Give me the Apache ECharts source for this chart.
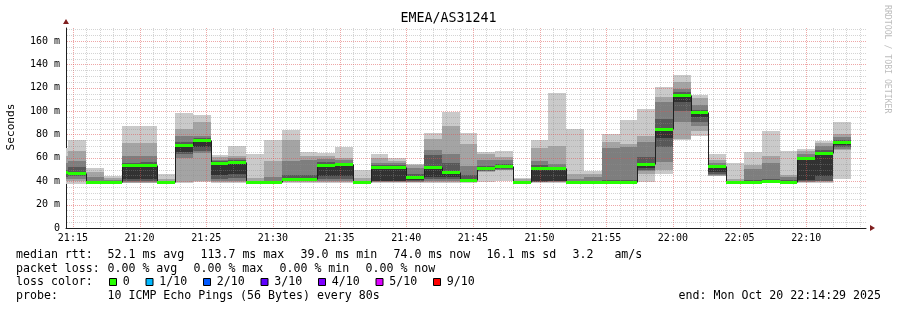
<!DOCTYPE html>
<html><head><meta charset="utf-8">
<script src="https://cdn.jsdelivr.net/npm/echarts@6/dist/echarts.min.js"></script>
<style>html,body{margin:0;padding:0;background:#fff}#c{width:897px;height:310px}</style>
</head><body><div id="c"></div>
<script>
// ---- data ----
const stepStarts = ['21:13:20','21:14:40','21:16:00','21:17:20','21:18:40','21:20:00','21:21:20','21:22:40','21:24:00','21:25:20',
  '21:26:40','21:28:00','21:29:20','21:30:40','21:32:00','21:33:20','21:34:40','21:36:00','21:37:20','21:38:40',
  '21:40:00','21:41:20','21:42:40','21:44:00','21:45:20','21:46:40','21:48:00','21:49:20','21:50:40','21:52:00',
  '21:53:20','21:54:40','21:56:00','21:57:20','21:58:40','22:00:00','22:01:20','22:02:40','22:04:00','22:05:20',
  '22:06:40','22:08:00','22:09:20','22:10:40','22:12:00'];
const stepSeconds = 80;
// sorted round-trip times of the 10 pings of each step (ms)
const ping1 = [38,38,38.2,38.3,38.2,38.3,38.3,38.5,39,38.5,38.5,38.3,38.3,38.7,38.7,38.7,38.8,38.3,38.5,38.5,38.5,38.8,38.8,38.5,39.5,39.8,38.4,38.5,38.5,38.3,38.3,38.4,38.4,39,46,75.5,78.5,44.2,38.3,38.5,38.7,38.5,38.6,38.6,42];
const ping2 = [40,40,38.5,38.6,38.8,38.9,38.6,39.5,40,39,39.3,38.6,38.6,39.3,39.4,39.3,39.5,38.6,39,39,39,39.5,39.5,39,48,49.5,38.7,39,39,38.6,38.6,38.7,38.7,46,50,76,83,44.8,38.6,38.8,39,38.8,39.1,39.2,67];
const ping3 = [42,42.3,38.7,38.8,39.2,39.3,38.8,60,63.9,40,40.5,38.8,38.8,40,40,40,40.5,38.8,39.4,39.4,39.5,40.3,40.3,39.4,48.5,49.8,38.9,39.4,39.4,38.8,38.8,38.9,38.9,48.5,56.7,90.7,87,45.3,38.8,39,39.3,39,39.5,39.8,68];
const ping4 = [44,44.6,38.8,38.9,40,40.2,38.9,63,66,42,42.5,38.9,38.9,40.5,40.5,41.5,42,38.9,39.8,39.8,40,41.5,41.5,39.8,49,50.3,39,39.7,39.8,38.9,38.9,39.1,39,50,69,100,91,46,38.9,39.2,39.6,39.2,40,40.5,69.5];
const ping5 = [46,45.7,38.9,39,41.7,41.5,39,65.3,69.5,45.5,46,39,39,41,41,44.5,44.5,39,40.5,40.5,41,44,43.5,40.3,49.5,51,39.1,40,40.5,39,39,39.3,39.2,51.5,77,107.5,95,47.5,39,39.4,40,39.4,41,44.5,71];
const ping6 = [47.8,47.4,39,39.1,53.8,53.9,39.1,71,75.3,55.8,56.5,39.1,39.1,42,42,54.3,54.5,39.1,52.5,52.5,43.5,51.8,48.2,41,51,52.8,39.3,51,51,39.1,39.1,39.6,39.4,54.6,85,113.7,99.5,52.8,39.1,39.5,40.2,39.5,59.5,64,74];
const ping7 = [50,52,40.5,39.8,56,56.5,39.5,74,77,57,58,39.8,40.5,45,45,56.5,56,39.8,54,54,46,62.4,56,45,53,55,39.8,54,52.5,40,40.5,41,41,61,93,116,101,54,39.7,41,42,41,61,67,75.5];
const ping8 = [56,57,43.5,40.8,61.7,62,40,79,79,58.5,59.5,40.5,44,57.5,58,59,58,40.5,56,55.5,51,66.7,63.3,53,58,58.5,40.5,57,55,42,44,68.3,69.4,73.6,108,119,105,55.5,40.5,50.5,55.7,44,63,70.5,77.5];
const ping9 = [62,65.7,47.5,42.5,72.6,73,41.5,85,91,60.5,61.5,42.5,57.2,75.3,62,62,60,43,60,57.5,53.5,76,87.3,72,63,61,41.5,68.5,70.5,46,46,73.3,71.5,79,112,125,111,58,42,54,62,45,65.5,72.5,80];
const ping10 = [68.5,75.2,51.3,44.8,87.5,87.6,46.5,98.5,96.7,62.5,70,63.5,75.2,83.5,65,64.5,69.5,50,63,60,55,81,99.5,81,65,66,42.5,75.2,115.5,85,49,80,92.3,101.4,120.5,131,114,63,55.3,65,83,65.8,67.2,74.7,91];
const lostPings = [0,0,0,0,0,0,0,0,0,0,0,0,0,0,0,0,0,0,0,0,0,0,0,0,0,0,0,0,0,0,0,0,0,0,0,0,0,0,0,0,0,0,0,0,0];
const medianRtt = ping6;
const xTickLabels = ['21:15','21:20','21:25','21:30','21:35','21:40','21:45','21:50','21:55','22:00','22:05','22:10'];
const yTickLabels = ['0','20 m','40 m','60 m','80 m','100 m','120 m','140 m','160 m'];
const lossLabels = ['0','1/10','2/10','3/10','4/10','5/10','9/10'];
const lossValues = [0,1,2,3,4,5,9];
const lossColors = ['#26ff00','#00b8ff','#0059ff','#5e00ff','#7e00ff','#dd00ff','#ff0000'];
const legendLines = [
  ['median rtt:', ['52.1 ms avg','113.7 ms max','39.0 ms min','74.0 ms now','16.1 ms sd','3.2   am/s']],
  ['packet loss:', ['0.00 % avg','0.00 % max','0.00 % min','0.00 % now']]
];
const probeText = '10 ICMP Echo Pings (56 Bytes) every 80s';
const endText = 'end: Mon Oct 20 22:14:29 2025';
const titleText = 'EMEA/AS31241';

// ---- helpers ----
function secs(hms){const p=hms.split(':').map(Number);return (p[0]-21)*3600+p[1]*60+(p[2]||0);}
const FONT = "'DejaVu Sans Mono', monospace";
const xMin = secs('21:14:29'), xMax = secs('22:14:29');
const yMax = 171.1;
const smokeColors = ['#cacaca','#a4a4a4','#7e7e7e','#585858','#323232'];
const pings = [ping1,ping2,ping3,ping4,ping5,ping6,ping7,ping8,ping9,ping10];
const smokeData = stepStarts.map((t,i)=>[secs(t), secs(t)+stepSeconds].concat(pings.map(p=>p[i])));
const medData = stepStarts.map((t,i)=>[secs(t), secs(t)+stepSeconds, medianRtt[i], i>0?medianRtt[i-1]:medianRtt[i], lostPings[i]]);
const xTickVals = xTickLabels.map(s=>secs(s+':00'));
const yTickVals = yTickLabels.map(s=>parseFloat(s));

// grid lines: minor each minute / 5 ms, major at labelled ticks
const gridData = [];
for (let t = Math.ceil(xMin/60)*60; t < xMax; t += 60) gridData.push([t, 1, xTickVals.indexOf(t) >= 0 ? 1 : 0]);
for (let v = 5; v < yMax; v += 5) if (yTickVals.indexOf(v) < 0) gridData.push([v, 0, 0]);
yTickVals.forEach(v=>{ if (v>0) gridData.push([v, 0, 1]); });

function xspan(params, api){
  const cs = params.coordSys;
  let x0 = Math.round(api.coord([api.value(0), 0])[0]);
  let x1 = Math.round(api.coord([api.value(1), 0])[0]);
  const clipped = x0 < cs.x;
  x0 = Math.max(x0, cs.x); x1 = Math.min(x1, cs.x + cs.width);
  return [x0, x1, clipped];
}

const chart = echarts.init(document.getElementById('c'), null, {renderer:'canvas'});

const graphics = [];
graphics.push({type:'text', x:448.5, y:19, style:{text:titleText, font:'13.3px '+FONT, fill:'#000', textAlign:'center', textVerticalAlign:'middle'}});
graphics.push({type:'text', x:11, y:127, rotation:Math.PI/2, style:{text:'Seconds', font:'11.2px '+FONT, fill:'#000', textAlign:'center', textVerticalAlign:'middle'}});
graphics.push({type:'text', x:887, y:5, rotation:-Math.PI/2, style:{text:'RRDTOOL / TOBI OETIKER', font:'8.2px '+FONT, fill:'#bdbdbd', textAlign:'left', textVerticalAlign:'middle'}});
const lineY = [255, 268.5, 282, 296];
const colX = 107.5, gap = 16, cw = 7.0;
const LF = '11.6px ' + FONT;
legendLines.forEach((ln, r)=>{
  graphics.push({type:'text', x:16, y:lineY[r], style:{text:ln[0], font:LF, fill:'#000', textVerticalAlign:'middle'}});
  let x = colX;
  ln[1].forEach(s=>{
    graphics.push({type:'text', x:x, y:lineY[r], style:{text:s, font:LF, fill:'#000', textVerticalAlign:'middle'}});
    x += s.length*cw + gap;
  });
});
graphics.push({type:'text', x:16, y:lineY[2], style:{text:'loss color:', font:LF, fill:'#000', textVerticalAlign:'middle'}});
let bx = 109.5;
lossLabels.forEach((l,i)=>{
  graphics.push({type:'rect', shape:{x:bx, y:lineY[2]-3.5, width:7, height:7}, style:{fill:lossColors[i], stroke:'#000', lineWidth:1}});
  graphics.push({type:'text', x:bx+13.3, y:lineY[2], style:{text:l, font:LF, fill:'#000', textVerticalAlign:'middle'}});
  bx = bx + 13.3 + l.length*cw + 16.2;
});
graphics.push({type:'text', x:16, y:lineY[3], style:{text:'probe:', font:LF, fill:'#000', textVerticalAlign:'middle'}});
graphics.push({type:'text', x:colX, y:lineY[3], style:{text:probeText, font:LF, fill:'#000', textVerticalAlign:'middle'}});
graphics.push({type:'text', x:881, y:lineY[3], style:{text:endText, font:LF, fill:'#000', textAlign:'right', textVerticalAlign:'middle'}});

function lossColor(n){ let c = lossColors[0]; lossValues.forEach((v,i)=>{ if (n >= v) c = lossColors[i]; }); return c; }

chart.setOption({
  animation:false,
  backgroundColor:'#ffffff',
  grid:{left:66, top:28, width:800, height:200, containLabel:false},
  xAxis:[{
    type:'value', min:xMin, max:xMax, gridIndex:0,
    axisLine:{show:true, onZero:false, lineStyle:{color:'#1f1f1f', width:1}},
    axisTick:{show:false}, splitLine:{show:false},
    axisLabel:{customValues:xTickVals, margin:5, fontFamily:FONT, fontSize:10, color:'#000',
      formatter:v=>{const i=xTickVals.indexOf(v);return i>=0?xTickLabels[i]:'';}}
  },{
    type:'value', min:xMin, max:xMax, gridIndex:0, position:'bottom',
    axisLine:{show:true, onZero:false, symbol:['none','triangle'], symbolSize:[6,5], symbolOffset:[0,6.5], lineStyle:{color:'#801f1f', width:0}},
    axisTick:{show:false}, axisLabel:{show:false}, splitLine:{show:false}
  }],
  yAxis:[{
    type:'value', min:0, max:yMax, gridIndex:0,
    axisLine:{show:true, onZero:false, lineStyle:{color:'#1f1f1f', width:1}},
    axisTick:{show:false}, splitLine:{show:false},
    axisLabel:{customValues:yTickVals, margin:6, fontFamily:FONT, fontSize:10, color:'#000',
      formatter:v=>{const i=yTickVals.indexOf(v);return i>=0?yTickLabels[i]:'';}}
  },{
    type:'value', min:0, max:yMax, gridIndex:0, position:'left',
    axisLine:{show:true, onZero:false, symbol:['none','triangle'], symbolSize:[6,5], symbolOffset:[0,6.5], lineStyle:{color:'#801f1f', width:0}},
    axisTick:{show:false}, axisLabel:{show:false}, splitLine:{show:false}
  }],
  graphic:graphics,
  series:[
    { // smoke
      type:'custom', xAxisIndex:0, yAxisIndex:0, z:2, silent:true,
      data:smokeData,
      renderItem:(params, api)=>{
        const [x0,x1] = xspan(params, api);
        if (x1 <= x0) return null;
        const children = [];
        for (let j=0;j<5;j++){
          const yHi = Math.round(api.coord([api.value(0), api.value(11-j)])[1]);
          const yLo = Math.round(api.coord([api.value(0), api.value(2+j)])[1]);
          children.push({type:'rect', shape:{x:x0, y:yHi, width:x1-x0, height:Math.max(yLo-yHi,0)}, style:{fill:smokeColors[j]}});
        }
        return {type:'group', children};
      }
    },
    { // grid
      type:'custom', xAxisIndex:0, yAxisIndex:0, z:3, silent:true,
      data:gridData,
      renderItem:(params, api)=>{
        const cs = params.coordSys;
        const v = api.value(0), isX = api.value(1), major = api.value(2);
        const stroke = major ? 'rgba(222,79,79,0.5)' : 'rgba(143,143,143,0.38)';
        if (isX) {
          const x = Math.round(api.coord([v, 0])[0]) + 0.5;
          return {type:'line', shape:{x1:x, y1:cs.y, x2:x, y2:cs.y+cs.height}, style:{stroke, lineWidth:1, lineDash:[1,1]}};
        }
        const y = Math.round(api.coord([xMin, v])[1]) + 0.5;
        return {type:'line', shape:{x1:cs.x+1, y1:y, x2:cs.x+cs.width, y2:y}, style:{stroke, lineWidth:1, lineDash:[1,1]}};
      }
    },
    { // median black line (LINE1)
      type:'custom', xAxisIndex:0, yAxisIndex:0, z:4, silent:true,
      data:medData,
      renderItem:(params, api)=>{
        const [x0,x1,clipped] = xspan(params, api);
        if (x1 <= x0) return null;
        const y = Math.round(api.coord([api.value(0), api.value(2)])[1]) + 0.5;
        const yp = Math.round(api.coord([api.value(0), api.value(3)])[1]) + 0.5;
        const children = [{type:'line', shape:{x1:x0, y1:y, x2:x1, y2:y}, style:{stroke:'#202020', lineWidth:1}}];
        if (!clipped) children.push({type:'line', shape:{x1:x0+0.5, y1:yp, x2:x0+0.5, y2:y}, style:{stroke:'#202020', lineWidth:1}});
        return {type:'group', children};
      }
    },
    { // median coloured by loss
      type:'custom', xAxisIndex:0, yAxisIndex:0, z:5, silent:true,
      data:medData,
      renderItem:(params, api)=>{
        const [x0,x1] = xspan(params, api);
        if (x1 <= x0) return null;
        const y = Math.round(api.coord([api.value(0), api.value(2)])[1]);
        return {type:'rect', shape:{x:x0, y:y-1, width:x1-x0, height:3}, style:{fill:lossColor(api.value(4))}};
      }
    }
  ]
});
</script></body></html>
